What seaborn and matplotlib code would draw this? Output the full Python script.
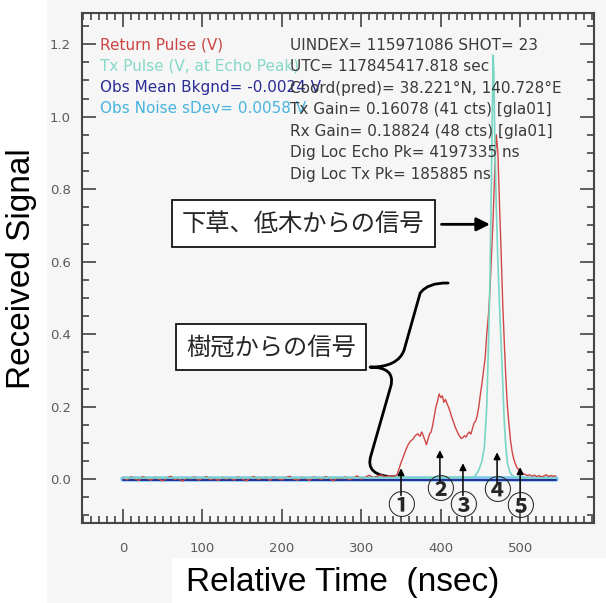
import matplotlib
matplotlib.use('Agg')
import matplotlib.pyplot as plt
import matplotlib.patches as mpatches
from matplotlib.path import Path
from matplotlib.ticker import MultipleLocator, FormatStrFormatter
import seaborn as sns
import numpy as np
import pandas as pd

sns.set_style('ticks')
plt.rcParams['font.family'] = ['DejaVu Sans', 'Noto Sans CJK JP']

# --- data ---
# return pulse: noisy baseline sampled every 5 ns, then the echo
base_time = np.arange(0, 345, 5)
base_vals = [0.004, -0.002, 0.006, 0.001, -0.004, 0.007, 0.002, -0.003, 0.005, 0.000,
             -0.005, 0.003, 0.008, -0.001, 0.002, -0.006, 0.004, 0.001, 0.006, -0.003,
             0.002, 0.007, -0.002, 0.003, -0.004, 0.005, 0.000, 0.004, -0.003, 0.006,
             0.001, -0.005, 0.003, 0.007, -0.001, 0.002, 0.005, -0.004, 0.006, 0.001,
             -0.002, 0.004, 0.008, 0.000, -0.003, 0.005, 0.002, -0.004, 0.006, 0.003,
             -0.001, 0.007, 0.002, -0.005, 0.004, 0.001, 0.006, -0.002, 0.003, 0.009,
             0.000, 0.005, 0.011, 0.004, 0.008, 0.012, 0.006, 0.010, 0.007]
echo_time = [345, 347, 350, 353, 356, 359, 362, 365, 368, 371, 374, 376, 378, 380, 382,
             384, 386, 388, 390, 392, 394, 396, 398, 400, 402, 404, 406, 408, 410, 412,
             414, 416, 418, 420, 422, 424, 426, 428, 430, 432, 434, 436, 438, 440, 442,
             444, 446, 448, 450, 452, 454, 456, 458, 460, 462, 464, 466, 468, 470, 472,
             474, 476, 478, 480, 482, 484, 486, 488, 490, 492, 494, 496, 498, 500, 503,
             506, 509, 512, 515, 518, 521, 524, 527, 530, 533, 536, 539, 542, 545]
echo_vals = [0.012, 0.025, 0.045, 0.062, 0.080, 0.095, 0.105, 0.110, 0.120, 0.125,
             0.118, 0.130, 0.120, 0.108, 0.095, 0.110, 0.125, 0.130, 0.150, 0.175,
             0.200, 0.215, 0.235, 0.225, 0.230, 0.212, 0.220, 0.208, 0.198, 0.185,
             0.170, 0.158, 0.145, 0.135, 0.125, 0.118, 0.112, 0.115, 0.120, 0.116,
             0.125, 0.130, 0.124, 0.140, 0.155, 0.160, 0.175, 0.200, 0.235, 0.265,
             0.300, 0.335, 0.400, 0.450, 0.520, 0.620, 0.720, 0.850, 0.950, 0.900,
             0.760, 0.630, 0.490, 0.380, 0.280, 0.200, 0.150, 0.105, 0.075, 0.055,
             0.042, 0.032, 0.026, 0.021, 0.016, 0.013, 0.010, 0.012, 0.008, 0.011,
             0.007, 0.010, 0.006, 0.009, 0.012, 0.007, 0.010, 0.008, 0.009]

# transmitted pulse scaled to the echo peak
tx_time = [0, 440, 444, 448, 452, 455, 458, 460, 462, 464, 466, 467, 468, 470, 472,
           474, 476, 478, 480, 482, 484, 487, 490, 495, 500, 545]
tx_vals = [0.003, 0.004, 0.010, 0.025, 0.050, 0.090, 0.200, 0.360, 0.550, 0.850,
           1.170, 1.120, 0.950, 0.750, 0.600, 0.480, 0.380, 0.270, 0.160, 0.090,
           0.045, 0.020, 0.010, 0.005, 0.003, 0.003]

# background mean and noise level
bg_time = [0, 545]
bg_mean = [-0.0024, -0.0024]
bg_noise = [0.0, 0.0]

legend_lines = ['Return Pulse (V)', 'Tx Pulse (V, at Echo Peak)',
                'Obs Mean Bkgnd= -0.0024 V', 'Obs Noise sDev= 0.0058 V']
legend_colors = ['#cc4444', '#86d8c8', '#2b2b96', '#48b4e0']
info_lines = ['UINDEX= 115971086 SHOT= 23',
              'UTC= 117845417.818 sec',
              'Coord(pred)= 38.221\u00b0N, 140.728\u00b0E',
              'Tx Gain= 0.16078 (41 cts) [gla01]',
              'Rx Gain= 0.18824 (48 cts) [gla01]',
              'Dig Loc Echo Pk= 4197335 ns',
              'Dig Loc Tx Pk= 185885 ns']

marker_labels = ['\u2460', '\u2461', '\u2462', '\u2463', '\u2464']
marker_x = [350, 399, 428, 471, 500]
marker_tip = [0.030, 0.080, 0.044, 0.074, 0.033]
marker_tail = [-0.045, -0.010, -0.045, -0.012, -0.052]
marker_label_y = [-0.077, -0.032, -0.077, -0.036, -0.080]

red = pd.DataFrame({'t': list(base_time) + echo_time, 'v': base_vals + echo_vals})
tx = pd.DataFrame({'t': tx_time, 'v': tx_vals})

fig = plt.figure(figsize=(6.06, 6.03), dpi=100, facecolor='#f6f6f6')
ax = fig.add_axes([0.1353, 0.1327, 0.8449, 0.8457])
ax.set_facecolor('#f6f6f6')

# white strips behind the big axis titles
fig.patches.append(mpatches.Rectangle((0, 0), 0.078, 1, transform=fig.transFigure,
                                      fc='white', ec='none', zorder=0))
fig.patches.append(mpatches.Rectangle((0.284, 0), 0.716, 0.075, transform=fig.transFigure,
                                      fc='white', ec='none', zorder=0))

sns.lineplot(x=bg_time, y=bg_noise, color='#7cc8ee', lw=4, ax=ax)
sns.lineplot(x=bg_time, y=bg_mean, color='#2b2b96', lw=1.4, ax=ax)
sns.lineplot(data=red, x='t', y='v', color='#d04646', lw=1.0, ax=ax)
sns.lineplot(data=tx, x='t', y='v', color='#7ad6c4', lw=1.2, ax=ax)

ax.set_xlim(-51.6, 593)
ax.set_ylim(-0.121, 1.286)
ax.xaxis.set_major_locator(MultipleLocator(100))
ax.xaxis.set_minor_locator(MultipleLocator(10))
ax.yaxis.set_major_locator(MultipleLocator(0.2))
ax.yaxis.set_minor_locator(MultipleLocator(0.05))
ax.set_xticks([0, 100, 200, 300, 400, 500])
ax.set_yticks([0.0, 0.2, 0.4, 0.6, 0.8, 1.0, 1.2])
ax.yaxis.set_major_formatter(FormatStrFormatter('%.1f'))
ax.set_xlabel('')
ax.set_ylabel('')
ax.tick_params(which='both', direction='in', top=True, right=True, color='#444444',
               width=1.2, labelcolor='#5a5a5a', labelsize=9.5)
ax.tick_params(which='major', length=10)
ax.tick_params(which='minor', length=5)
ax.tick_params(axis='x', pad=14)
ax.tick_params(axis='y', pad=8)
for s in ax.spines.values():
    s.set_color('#444444')
    s.set_linewidth(1.5)
    s.set_visible(True)

fig.text(0.036, 0.555, 'Received Signal', rotation=90, ha='center', va='center',
         fontsize=24, family='Liberation Sans', color='black')
fig.text(0.565, 0.034, 'Relative Time  (nsec)', ha='center', va='center',
         fontsize=24, family='Liberation Sans', color='black')

# header texts
for i, (txt, c) in enumerate(zip(legend_lines, legend_colors)):
    ax.text(0.035, 0.937 - i * 0.0415, txt, color=c, fontsize=11,
            transform=ax.transAxes, va='center', ha='left')
for i, txt in enumerate(info_lines):
    ax.text(0.406, 0.937 - i * 0.0422, txt, color='#3a3a3a', fontsize=11,
            transform=ax.transAxes, va='center', ha='left')

# japanese call-outs
jp = ['Noto Sans CJK JP']
box = dict(boxstyle='square,pad=0.42', fc='white', ec='black', lw=1.2)
ax.text(227, 0.705, '下草、低木からの信号', fontsize=17.5, family=jp,
        ha='center', va='center', bbox=box)
ax.text(186, 0.364, '樹冠からの信号', fontsize=17.5, family=jp,
        ha='center', va='center', bbox=box)
ax.annotate('', xy=(462, 0.703), xytext=(401, 0.703),
            arrowprops=dict(arrowstyle='-|>', color='black', lw=2, mutation_scale=20,
                            shrinkA=0, shrinkB=0))

# curly brace
verts = [(409.3, 0.541), (384.1, 0.543), (374.1, 0.513), (353.9, 0.356),
         (346.3, 0.309), (311.1, 0.309), (342.6, 0.309), (337.5, 0.259),
         (312.3, 0.066), (303.5, 0.008), (342.6, 0.006)]
codes = [Path.MOVETO, Path.CURVE3, Path.CURVE3, Path.LINETO, Path.CURVE3, Path.CURVE3,
         Path.CURVE3, Path.CURVE3, Path.LINETO, Path.CURVE3, Path.CURVE3]
ax.add_patch(mpatches.PathPatch(Path(verts, codes), fc='none', ec='black', lw=2,
                                capstyle='round', joinstyle='round'))

for lab, x, tip, tail, ly in zip(marker_labels, marker_x, marker_tip, marker_tail, marker_label_y):
    ax.annotate('', xy=(x, tip), xytext=(x, tail),
                arrowprops=dict(arrowstyle='-|>', color='black', lw=1.1, mutation_scale=10,
                                shrinkA=0, shrinkB=0))
    ax.text(x, ly, lab, fontsize=20, family=jp, ha='center', va='center',
            fontweight='bold')

fig.savefig('out.png', dpi=100, facecolor=fig.get_facecolor())
